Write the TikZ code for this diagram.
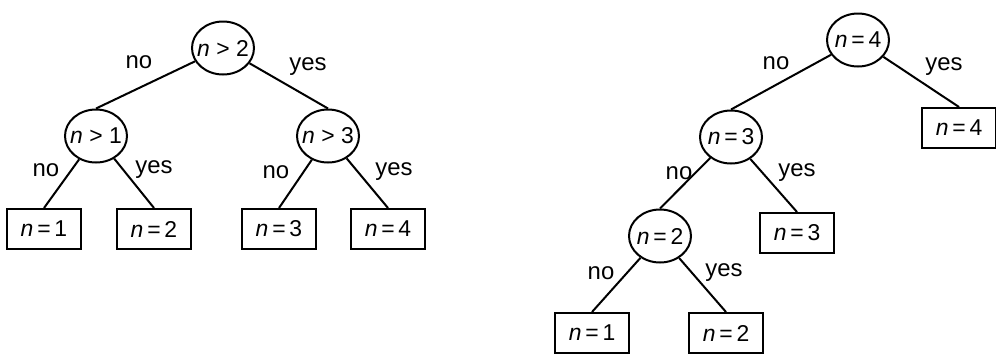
\documentclass[tikz,border=0pt]{standalone}
\usepackage{fontspec}
\setmainfont{Liberation Sans}
\usetikzlibrary{shapes.geometric}
\newcommand\zb[1]{\makebox[0pt]{#1}}
\begin{document}
\begin{tikzpicture}[x=1bp,y=-1bp,
  every node/.style={font=\fontsize{23}{25}\selectfont},
  test/.style={draw, ellipse, line width=2bp, minimum width=62bp, minimum height=53bp, inner sep=0pt},
  leaf/.style={draw, rectangle, line width=2bp, minimum width=74bp, minimum height=40bp, inner sep=0pt},
  lbl/.style={font=\fontsize{24}{26}\selectfont, inner sep=0pt},
  edge/.style={line width=2bp}]
\useasboundingbox (0,0) rectangle (996,355);
% left tree
\node[test] (a) at (223,48) {\zb{\textit{n}\;>\;2}};
\node[test] (b) at (96,136) {\zb{\textit{n}\;>\;1}};
\node[test] (c) at (328,136) {\zb{\textit{n}\;>\;3}};
\node[leaf] (l1) at (44,229) {\textit{n}\,=\,1};
\node[leaf] (l2) at (154,229) {\textit{n}\,=\,2};
\node[leaf] (l3) at (279,229) {\textit{n}\,=\,3};
\node[leaf] (l4) at (388,229) {\textit{n}\,=\,4};
\draw[edge] (a) -- (b.north);
\draw[edge] (a) -- (c.north);
\draw[edge] (b) -- (l1.north);
\draw[edge] (b) -- (l2.north);
\draw[edge] (c) -- (l3.north);
\draw[edge] (c) -- (l4.north);
\node[lbl] (t1) at (139,62) {no};
\node[lbl] (t2) at (308,67) {yes};
\node[lbl] (t3) at (46,170) {no};
\node[lbl] (t4) at (154,170) {yes};
\node[lbl] (t5) at (276,172) {no};
\node[lbl] (t6) at (394,172) {yes};
% right tree
\node[test] (p) at (858,40) {\zb{\textit{n}\,=\,4}};
\node[test] (q) at (731,137) {\zb{\textit{n}\,=\,3}};
\node[test] (r) at (660,236) {\zb{\textit{n}\,=\,2}};
\node[leaf] (m4) at (959,128) {\textit{n}\,=\,4};
\node[leaf] (m3) at (797,233) {\textit{n}\,=\,3};
\node[leaf] (m1) at (592,333) {\textit{n}\,=\,1};
\node[leaf] (m2) at (726,333) {\textit{n}\,=\,2};
\draw[edge] (p) -- (q.north);
\draw[edge] (p) -- (m4.north);
\draw[edge] (q) -- (r.north);
\draw[edge] (q) -- (m3.north);
\draw[edge] (r) -- (m1.north);
\draw[edge] (r) -- (m2.north);
\node[lbl] (u1) at (776,63) {no};
\node[lbl] (u2) at (944,67) {yes};
\node[lbl] (u3) at (679,173) {no};
\node[lbl] (u4) at (797,173) {yes};
\node[lbl] (u5) at (601,273) {no};
\node[lbl] (u6) at (724,273) {yes};
\end{tikzpicture}
\end{document}
